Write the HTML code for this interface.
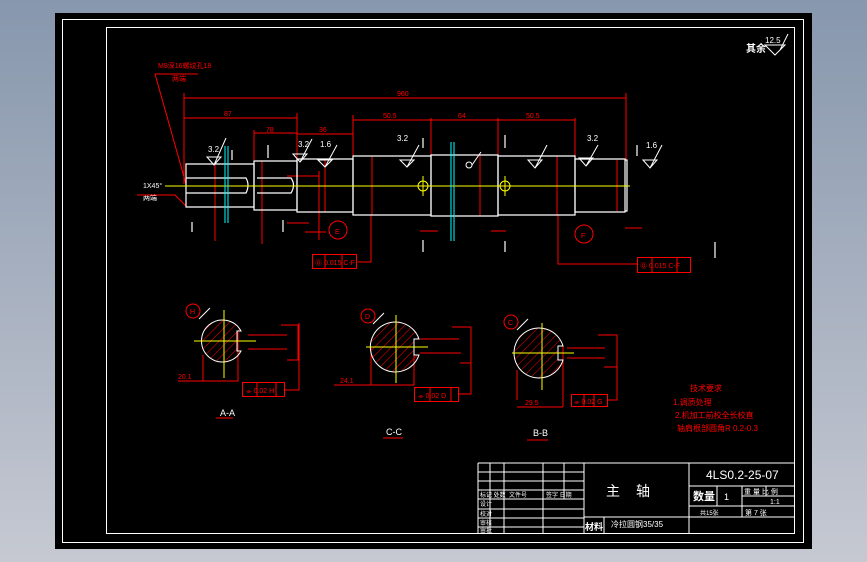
<!DOCTYPE html>
<html><head><meta charset="utf-8"><style>
html,body{margin:0;padding:0;width:867px;height:562px;overflow:hidden;background:linear-gradient(#8797ad,#c6c9d2);}
svg{display:block}
text{font-family:"Liberation Sans","Noto Sans CJK SC",sans-serif;}
</style></head><body>
<svg width="867" height="562" viewBox="0 0 867 562" xmlns="http://www.w3.org/2000/svg">
<defs>
<pattern id="h" width="6" height="6" patternUnits="userSpaceOnUse" patternTransform="rotate(45)">
<line x1="0" y1="0" x2="0" y2="6" stroke="#f00" stroke-width="1"/></pattern>
</defs>
<rect x="55" y="13" width="757" height="536" fill="#000"/>
<rect x="62.5" y="19.5" width="741" height="523" fill="none" stroke="#fff"/>
<rect x="106.5" y="27.5" width="688" height="506" fill="none" stroke="#fff"/>
<!-- top right roughness -->
<text x="746" y="52" fill="#fff" font-size="10" font-weight="bold">其余</text>
<text x="765" y="43" fill="#fff" font-size="8">12.5</text>
<path d="M765 45 L775 55 L785 45 Z M780 50 L788 34" fill="none" stroke="#fff"/>
<!-- leader text -->
<g fill="#f00" font-size="7">
<text x="158" y="68">M8深16螺纹孔18</text><text x="172" y="81">两端</text>
<text x="143" y="188" fill="#fff">1X45°</text><text x="143" y="200" fill="#fff">两端</text>
</g>
<g stroke="#f00" fill="none" stroke-width="1">
<path d="M155 74 H198 M155 74 L186 184"/>
<path d="M137 195 H175 L186 206"/>
<!-- dims -->
<path d="M184 98 H626 M184 93 V184 M626 93 V160"/>
<path d="M184 118 H297 M297 113 V160"/>
<path d="M254 133 H297 M254 130 V160"/>
<path d="M297 134 H353 M353 115 V156"/>
<path d="M353 120 H575 M431 118 V155 M498 118 V155 M575 118 V159"/>
<!-- diameter dims -->
<path d="M215 164 V241 M262 161 V244 M325 160 V212 M372 156 V215 M480 155 V216 M557 156 V215 M617 160 V211"/>
<path d="M371 215 V262 H358 M558 215 V264 H637"/>
<path d="M287 176 H319 M287 223 H309 M319 171 V240 M305 232 H326"/>
<path d="M420 231 H438 M491 231 H506 M625 228 H642"/>
<rect x="312.5" y="254.5" width="44" height="14"/>
<path d="M325 254 V268 M342 254 V268"/>
<rect x="637.5" y="257.5" width="53" height="15"/>
<path d="M652 257 V272 M677 257 V272"/>
<circle cx="338" cy="230" r="9"/><circle cx="584" cy="234" r="9"/>
</g>
<g fill="#f00" font-size="7">
<text x="224" y="116">87</text><text x="266" y="132">78</text><text x="319" y="132">36</text>
<text x="383" y="118">50.5</text><text x="458" y="118">64</text><text x="526" y="118">50.5</text>
<text x="397" y="96">960</text>
<text x="315" y="265">Ⓞ 0.015 C-F</text><text x="640" y="268">Ⓞ 0.015 C-F</text>
<text x="335" y="234" fill="#f00">E</text><text x="581" y="238">F</text>
</g>
<!-- shaft -->
<g stroke="#fff" fill="none" stroke-width="1.2">
<path d="M186 164 H254 V207 H186 Z M186 178 H246 Q250 185 246 193 H186"/>
<path d="M254 161 H297 V210 H254 Z M257 178 H291 Q296 185 291 193 H257"/>
<path d="M297 159 H353 V212 H297 Z"/>
<path d="M353 156 H431 V215 H353 Z"/>
<path d="M431 155 H498 V216 H431 Z"/>
<path d="M498 156 H575 V215 H498 Z"/>
<path d="M575 159 H625 V212 H575 Z M625 160 H627 V211 H625"/>
<path d="M232 150 V160 M268 145 V158 M423 138 V148 M505 135 V148 M637 145 V156 M192 222 V232 M283 220 V232 M423 240 V252 M505 241 V252 M715 242 V258"/>
</g>
<g stroke="#fff" fill="none">
<path d="M207 157 L214 165 L221 157 Z M214 165 L226 138 M293 154 L300 162 L307 154 Z M300 162 L312 139 M318 160 L325 167 L332 160 Z M325 167 L337 145 M400 160 L407 167 L414 160 Z M407 167 L419 145 M528 160 L535 168 L542 160 Z M535 168 L547 145 M579 158 L586 166 L593 158 Z M586 166 L598 145 M643 160 L650 168 L657 160 Z M650 168 L662 145"/>
<circle cx="469" cy="165" r="3"/><path d="M472 165 L481 152"/>
</g>
<g fill="#fff" font-size="8">
<text x="208" y="152">3.2</text><text x="298" y="147">3.2</text><text x="320" y="147">1.6</text>
<text x="397" y="141">3.2</text><text x="587" y="141">3.2</text><text x="646" y="148">1.6</text>
</g>
<path d="M165 186 H630" stroke="#ff0"/>
<circle cx="423" cy="186" r="5" stroke="#ff0" fill="none"/><circle cx="505" cy="186" r="5" stroke="#ff0" fill="none"/>
<path d="M423 176 V196 M505 176 V196" stroke="#ff0"/>
<path d="M225 146 V223 M228 146 V223 M451 142 V241 M454 142 V241" stroke="#0ff"/>
<!-- sections -->
<g stroke="#f00" fill="none">
<circle cx="193" cy="311" r="7"/><circle cx="368" cy="316" r="7"/><circle cx="511" cy="322" r="7"/>
<path d="M178 381 H238 V332 M203 381 V355 M248 335 H287 M248 349 H287 M281 325 H298 V360 H287"/>
<rect x="242.5" y="382.5" width="42" height="14"/><path d="M257 382 V396 M276 382 V396 M284 390 H299 V323"/>
<path d="M334 385 H414 V350 M371 385 V348 M420 339 H459 M420 353 H461 M452 327 H471 V363 H460"/>
<rect x="414.5" y="387.5" width="44" height="14"/><path d="M430 387 V401 M451 387 V401 M459 394 H471 V363"/>
<path d="M517 407 H563 M517 400 V370 M563 407 V345 M567 348 H605 M567 358 H605 M598 335 H617 V367 H604"/>
<rect x="571.5" y="394.5" width="36" height="12"/><path d="M584 394 V406 M594 394 V406 M607 400 H617 V367"/>
</g>
<g stroke="#fff" fill="url(#h)">
<path d="M241 331 A21 21 0 1 0 241 351 L237 351 V331 Z"/>
<path d="M419 339 A25 25 0 1 0 419 355 L414 355 V339 Z"/>
<path d="M563 346 A25 25 0 1 0 563 360 L558 360 V346 Z"/>
</g>
<g stroke="#ff0">
<path d="M194 341 H256 M224 310 V378 M366 347 H428 M396 315 V383 M512 353 H574 M542 323 V390"/>
</g>
<path d="M199 319 L210 308 M373 324 L384 313 M517 330 L528 319" stroke="#fff"/>
<g fill="#f00" font-size="7">
<text x="190" y="314">H</text><text x="365" y="319">D</text><text x="508" y="325">C</text>
<text x="178" y="379">20.1</text><text x="340" y="383">24.1</text><text x="525" y="405">29.5</text>
<text x="246" y="393">⌯ 0.02 H</text><text x="418" y="398">⌯ 0.02 D</text><text x="574" y="404">⌯ 0.02 G</text>
</g>
<g fill="#fff" font-size="9"><text x="220" y="416">A-A</text><text x="386" y="435">C-C</text><text x="533" y="436">B-B</text></g>
<path d="M216 418 H233 M383 438 H403 M527 440 H548" stroke="#f00"/>
<!-- tech requirements -->
<g fill="#f00" font-size="8">
<text x="690" y="391">技术要求</text>
<text x="673" y="405">1.调质处理</text>
<text x="675" y="418">2.机加工前校全长校直</text>
<text x="677" y="431">轴肩根部圆角R 0.2-0.3</text>
</g>
<!-- title block -->
<g stroke="#fff" fill="none">
<path d="M478 463 H795 M478 463 V534 M490 463 V534 M504 463 V534 M543 463 V534 M564 463 V499 M584 463 V534 M689 463 V534"/>
<path d="M478 472 H584 M478 481 H584 M478 490 H584 M478 499 H584 M478 509 H584 M478 518 H584 M478 527 H584"/>
<path d="M584 517 H689 M604 517 V534"/>
<path d="M689 486 H795 M689 506 H795 M689 517 H795 M717 486 V506 M742 486 V517 M742 496 H795 M766 486 V496 M742 506 V517"/>
</g>
<g fill="#fff">
<text x="606" y="496" font-size="14">主</text><text x="636" y="496" font-size="14">轴</text>
<text x="706" y="479" font-size="12">4LS0.2-25-07</text>
<text x="693" y="500" font-size="11" font-weight="bold">数量</text><text x="724" y="500" font-size="9">1</text>
<text x="744" y="494" font-size="7">重 量 比 例</text><text x="770" y="504" font-size="7">1:1</text>
<text x="745" y="515" font-size="7">第 7 张</text><text x="700" y="515" font-size="6">共15张</text>
<text x="585" y="530" font-size="9" font-weight="bold">材料</text><text x="611" y="527" font-size="8">冷拉圆钢35/35</text>
<g font-size="6"><text x="480" y="497">标记 处数</text><text x="509" y="497">文件号</text><text x="546" y="497">签字 日期</text>
<text x="480" y="506">设计</text><text x="480" y="516">校对</text><text x="480" y="525">审核</text><text x="480" y="533">审批</text></g>
</g>
</svg>
</body></html>
